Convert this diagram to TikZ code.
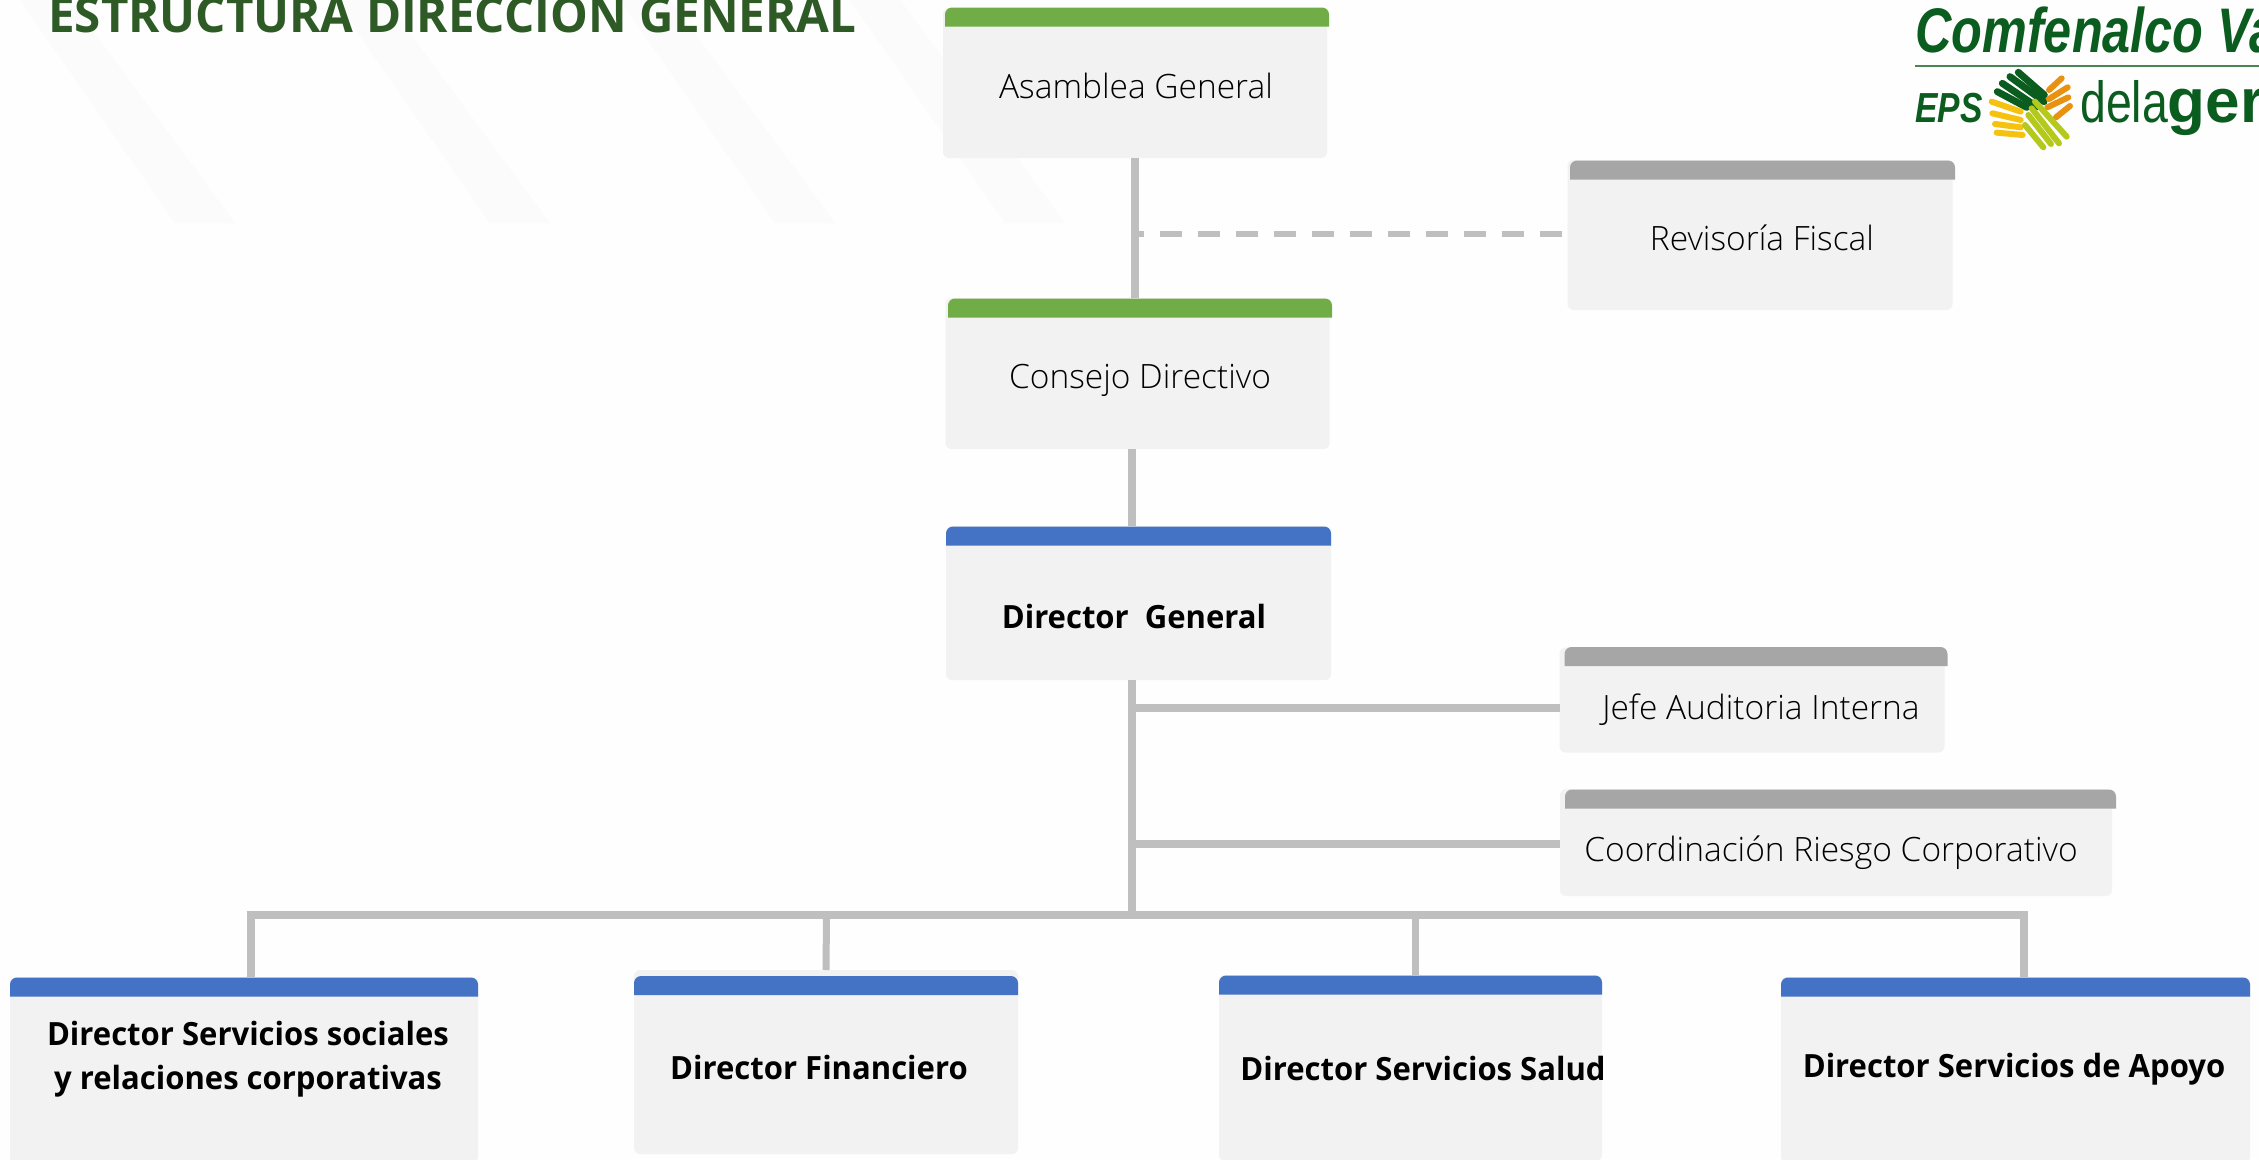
\documentclass[tikz,border=0pt]{standalone}
\usepackage{fontspec}
\setmainfont{Open Sans}[FakeStretch=0.97]
\newfontfamily\lightfont{Open Sans Light}
\newfontfamily\logofont[FakeStretch=0.8]{Liberation Sans}
\newfontfamily\logowide{Liberation Sans}
\definecolor{headgreen}{HTML}{70AD47}
\definecolor{headblue}{HTML}{4472C4}
\definecolor{headgray}{HTML}{A6A6A6}
\definecolor{boxfill}{HTML}{F2F2F2}
\definecolor{linegray}{HTML}{BFBFBF}
\definecolor{titlegreen}{HTML}{2E5A26}
\definecolor{logogreen}{HTML}{0B5C1F}
\definecolor{logoorange}{HTML}{E8920F}
\definecolor{logoyellow}{HTML}{F5C20F}
\definecolor{logolime}{HTML}{B4C91C}
\definecolor{paper}{HTML}{FEFEFE}
\definecolor{stripegray}{HTML}{FBFBFB}
\begin{document}
\begin{tikzpicture}[x=1pt,y=-1pt]
\pgfmathsetmacro{\XTOP}{1134.5}
\pgfmathsetmacro{\XTRUNK}{1132}
\pgfmathsetmacro{\YBUS}{915}

\tikzset{
  orgbox/.style={fill=boxfill, rectangle, rounded corners=6pt, inner sep=0pt, outer sep=0pt},
  orghead/.style={rectangle, inner sep=0pt, outer sep=0pt, minimum height=19pt},
  orgtext/.style={align=center, font=\lightfont\fontsize{33.5}{44}\selectfont, inner sep=0pt},
  orgbold/.style={align=center, font=\fontsize{32}{44}\selectfont\bfseries, inner sep=0pt},
  link/.style={draw=linegray, line width=8pt},
  logotext/.style={anchor=base west, inner sep=0pt, text=logogreen},
}

\useasboundingbox (0,0) rectangle (2259,1159);
\fill[paper] (0,0) rectangle (2259,1159);

% stripes behind the title
\foreach \x in {0,315,600,830} {
  \fill[stripegray] (\x+20,0) -- (\x+70,0) -- (\x+235,223) -- (\x+175,223) -- cycle;
}

\node[orgbox, minimum width=384pt, minimum height=150pt] (asamblea) at (1135,83) {};
\node[orgbox, minimum width=384pt, minimum height=151pt] (consejo) at (1137.5,373.5) {};
\node[orgbox, minimum width=385pt, minimum height=154pt] (general) at (1138.5,603) {};
\node[orgbox, minimum width=385pt, minimum height=150pt] (revisoria) at (1760,235) {};
\node[orgbox, minimum width=385pt, minimum height=105pt] (jefe) at (1752,700) {};
\node[orgbox, minimum width=552pt, minimum height=107pt] (riesgo) at (1836,842.5) {};
\node[orgbox, minimum width=468pt, minimum height=186pt] (sociales) at (244,1070) {};
\node[orgbox, minimum width=384pt, minimum height=184pt] (financiero) at (826,1062) {};
\node[orgbox, minimum width=383pt, minimum height=186pt] (salud) at (1410.5,1068) {};
\node[orgbox, minimum width=469pt, minimum height=186pt] (apoyo) at (2015.5,1070) {};

\node[orghead, minimum width=384pt] (asambleaH) at (1137,17) {};
\node[orghead, minimum width=384pt] (consejoH) at (1140,308) {};
\node[orghead, minimum width=385pt] (generalH) at (1138.5,536) {};
\node[orghead, minimum width=385pt] (revisoriaH) at (1762.5,170) {};
\node[orghead, minimum width=383pt] (jefeH) at (1756,656.5) {};
\node[orghead, minimum width=551pt] (riesgoH) at (1840.5,799) {};
\node[orghead, minimum width=468pt] (socialesH) at (244,987) {};
\node[orghead, minimum width=384pt] (financieroH) at (826,985.5) {};
\node[orghead, minimum width=383pt] (saludH) at (1410.5,985) {};
\node[orghead, minimum width=469pt] (apoyoH) at (2015.5,987) {};

\foreach \h/\c in {asambleaH/headgreen, consejoH/headgreen, generalH/headblue,
  revisoriaH/headgray, jefeH/headgray, riesgoH/headgray, socialesH/headblue,
  financieroH/headblue, saludH/headblue, apoyoH/headblue} {
  \fill[\c] (\h.south west) {[rounded corners=7pt] -- (\h.north west) -- (\h.north east)} -- (\h.south east) -- cycle;
}

\node[orgtext] (asambleaT) at (1136,86) {Asamblea General};
\node[orgtext] (consejoT) at (1140,380) {Consejo Directivo};
\node[orgtext] (revisoriaT) at (1762,238) {Revisoría Fiscal};
\node[orgtext] (jefeT) at (1761,710) {Jefe Auditoria Interna};
\node[orgtext] (riesgoT) at (1831,853) {Coordinación Riesgo Corporativo};
\node[orgbold] (generalT) at (1134,616.5) {Director\ \ General};
\node[orgbold] (socialesT) at (248,1059) {Director Servicios sociales\\y relaciones corporativas};
\node[orgbold] (financieroT) at (819,1067) {Director Financiero};
\node[orgbold] (saludT) at (1423,1068) {Director Servicios Salud};
\node[orgbold] (apoyoT) at (2014,1069) {Director Servicios de Apoyo};

\coordinate (dashJ) at (\XTOP,234);
\coordinate (jefeJ) at (\XTRUNK,708);
\coordinate (riesgoJ) at (\XTRUNK,844);
\coordinate (busJ) at (\XTRUNK,\YBUS);
\coordinate (busL) at (251,\YBUS);
\coordinate (busR) at (2024,\YBUS);

\draw[link] (asamblea.south -| \XTOP,0) -- (consejo.north -| \XTOP,0);
\draw[link] (consejo.south -| \XTRUNK,0) -- (general.north -| \XTRUNK,0);
\draw[link] (general.south -| \XTRUNK,0) -- (busJ);
\draw[link] (jefeJ) -- (jefeJ -| jefe.west);
\draw[link] (riesgoJ) -- (riesgoJ -| riesgo.west);
\draw[link, line cap=rect] (busL) -- (busR);
\draw[link] (busL) -- (busL |- sociales.north);
\draw[link, line width=7pt] (826.5,\YBUS) -- (financiero.north);
\draw[link, line width=7pt] (1415,\YBUS) -- (1415,0 |- salud.north);
\draw[link] (busR) -- (busR |- apoyo.north);
\draw[link, line width=5.5pt, dash pattern=on 22pt off 16pt, dash phase=12.5pt] (dashJ) -- (dashJ -| revisoria.west);

\node[anchor=base west, inner sep=0pt, text=titlegreen, font=\fontsize{49}{56}\selectfont\bfseries] (title) at (48,32) {ESTRUCTURA DIRECCION GENERAL};

% logo
\node[logotext, font=\logofont\bfseries\itshape\fontsize{63}{70}\selectfont] (logoA) at (1915,52) {Comfenalco Va};
\coordinate (logoL) at (1915,66);
\coordinate (logoR) at (2259,66);
\draw[draw=logogreen!75!white, line width=2pt] (logoL) -- (logoR);
\node[logotext, font=\logofont\bfseries\itshape\fontsize{42}{50}\selectfont] (logoB) at (1915,122) {EPS};
\node[logotext, font=\logofont\fontsize{58}{60}\selectfont] (logoC) at (2080,122) {dela{\logowide\bfseries\fontsize{62}{60}\selectfont ger}};

\begin{scope}[shift={(1850,0)},x=0.3333pt,y=-0.3333pt,line cap=round]
\foreach \xa/\ya/\xb/\yb in {505/217/583/285, 480/230/582/305, 457/250/560/320, 442/275/530/322}
  \draw[logogreen, line width=7pt] (\xa,\ya) -- (\xb,\yb);
\foreach \xa/\ya/\xb/\yb in {597/270/635/235, 597/297/653/262, 592/322/655/292, 618/352/660/318}
  \draw[logoorange, line width=6pt] (\xa,\ya) -- (\xb,\yb);
\foreach \xa/\ya/\xb/\yb in {425/305/512/335, 427/340/512/360, 435/372/512/382, 440/398/518/405}
  \draw[logoyellow, line width=6pt] (\xa,\ya) -- (\xb,\yb);
\foreach \xa/\ya/\xb/\yb in {525/375/580/442, 535/345/603/432, 545/325/627/430, 555/305/650/410}
  \draw[logolime, line width=6pt] (\xa,\ya) -- (\xb,\yb);
\end{scope}
\end{tikzpicture}
\end{document}
